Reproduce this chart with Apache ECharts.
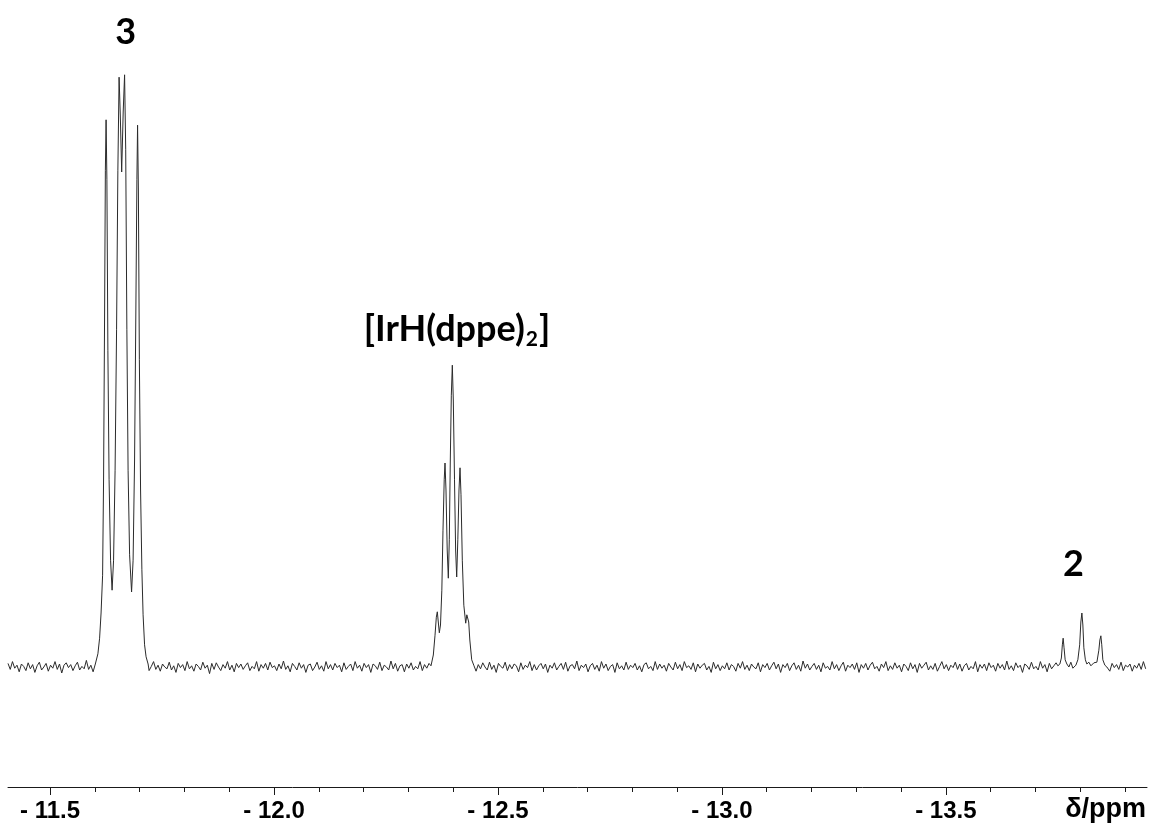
<!DOCTYPE html>
<html>
<head>
<meta charset="utf-8">
<title>Hydride region 1H NMR</title>
<script src="https://cdn.jsdelivr.net/npm/echarts@6/dist/echarts.min.js"></script>
<style>
  html, body { margin: 0; padding: 0; background: #fff; }
  #chart { width: 1153px; height: 830px; }
</style>
</head>
<body>
<div id="chart"></div>
<script>
// Chemical-shift window (ppm), drawn with higher shift on the left
const ppmMax = -11.406;
const ppmMin = -13.949;

const majorTicks = [-11.5, -12.0, -12.5, -13.0, -13.5];
const minorTicks = [-11.5, -11.6, -11.7, -11.8, -11.9, -12.0, -12.1, -12.2, -12.3, -12.4,
  -12.5, -12.6, -12.7, -12.8, -12.9, -13.0, -13.1, -13.2, -13.3, -13.4,
  -13.5, -13.6, -13.7, -13.8, -13.9];

// Baseline noise (relative intensity), sampled every noiseStep ppm from noiseStart
const noiseStart = -11.406;
const noiseStep = 0.005;
const baselineNoise = [
  0.6,-0.4,0.9,-0.2,0.3,-0.8,0.5,0.1,-0.6,0.7,-0.3,0.4,-0.9,0.2,0.8,-0.5,0.0,0.6,-0.7,0.3,
  -0.2,0.9,-0.4,0.5,-1.0,0.3,0.7,-0.1,0.4,-0.6,0.2,0.8,-0.5,0.1,-0.3,1.1,-0.4,0.3,-0.8,0.5,
  0.0,-0.6,0.7,-0.2,0.4,-0.9,0.6,0.2,-0.4,0.8,-0.7,0.3,-0.1,0.5,-0.5,0.9,-0.3,0.1,0.6,-0.8,
  0.4,-0.2,0.7,-0.6,0.1,0.9,-0.4,0.3,-0.7,0.5,0.0,-0.3,0.8,-0.5,0.2,-0.9,0.6,-0.1,0.4,-0.6,
  0.9,-0.3,0.2,-0.7,0.5,0.1,-0.5,0.8,-0.2,0.3,-1.1,0.6,-0.4,0.7,0.0,-0.6,0.4,-0.2,0.9,-0.5,
  0.3,-0.8,0.6,-0.1,0.5,-0.4,0.2,0.7,-0.6,0.1,-0.3,0.9,-0.7,0.4,-0.2,0.6,-0.5,0.8,-0.1,0.2,
  -0.6,0.5,-0.3,1.0,-0.4,0.2,-0.8,0.6,0.1,-0.5,0.7,-0.2,0.4,-0.9,0.3,0.5,-0.6,0.0,0.8,-0.4,
  0.2,-0.7,0.9,-0.3,0.4,-0.5,0.6,-0.1,0.3,-0.8,0.7,-0.4,0.1,0.5,-0.6,0.9,-0.2,0.3,-0.7,0.6,
  -0.1,0.4,-0.9,0.5,0.2,-0.4,0.8,-0.6,0.3,0.0,-0.5,1.0,-0.3,0.6,-0.7,0.2,0.4,-0.8,0.5,-0.2,
  0.7,-0.5,0.1,-0.3,0.9,-0.6,0.4,-0.2,0.6,-0.9,0.3,0.5,-0.4,0.8,-0.1,0.2,-0.7,0.6,-0.3,0.4,
  -0.8,0.3,0.6,-0.4,0.2,-0.6,0.9,-0.1,0.5,-0.7,0.4,-0.3,0.7,0.0,-0.5,0.8,-0.4,0.3,-0.9,0.6,
  0.1,-0.2,0.8,-0.6,0.4,-0.3,0.5,0.2,-0.8,0.7,-0.4,0.3,-0.1,0.9,-0.6,0.4,-0.5,0.2,0.6,-0.3,
  0.5,-0.9,0.3,-0.2,0.7,-0.5,0.1,0.6,-0.4,0.8,-0.7,0.2,0.4,-0.3,1.0,-0.6,0.3,-0.1,0.5,-0.8,
  0.2,0.6,-0.4,0.3,-0.7,0.9,-0.2,0.5,-0.6,0.1,0.4,-0.9,0.7,-0.3,0.2,-0.5,0.8,-0.4,0.3,-0.1,
  0.6,-0.5,0.2,-0.8,0.4,0.7,-0.3,0.1,-0.6,0.9,-0.4,0.5,-0.2,0.3,-0.7,0.6,0.0,-0.5,0.8,-0.3,
  0.4,-0.6,0.9,-0.1,0.2,-0.4,0.7,-0.8,0.5,-0.2,0.3,0.6,-0.5,0.1,-0.9,0.8,-0.3,0.4,-0.6,0.2,
  -0.3,0.7,-0.5,0.4,0.1,-0.7,0.6,-0.2,0.9,-0.4,0.3,-0.6,0.5,0.0,-0.3,0.7,-0.8,0.4,-0.1,0.6,
  -0.5,0.2,0.8,-0.3,0.5,-0.9,0.4,-0.1,0.6,-0.6,0.2,0.7,-0.4,0.3,-0.7,1.0,-0.2,0.5,-0.5,0.1,
  0.6,-0.4,0.3,-0.8,0.7,-0.2,0.1,-0.5,0.9,-0.3,0.4,-0.6,0.2,0.8,-0.7,0.3,-0.1,0.5,-0.4,0.7,
  -0.9,0.4,-0.2,0.6,-0.5,0.3,0.8,-0.3,0.1,-0.7,0.5,-0.1,0.9,-0.6,0.2,-0.4,0.7,-0.2,0.3,-0.8,
  0.5,0.1,-0.6,0.7,-0.3,0.4,-0.9,0.6,-0.2,0.3,0.8,-0.5,0.2,-0.4,0.6,-0.7,0.1,0.9,-0.3,0.4,
  -0.6,0.3,-0.1,0.8,-0.4,0.5,-0.7,0.2,0.6,-0.5,0.1,-0.3,0.9,-0.8,0.4,-0.2,0.5,-0.6,0.7,-0.1,
  0.3,-0.7,0.6,-0.2,0.4,-0.5,1.0,-0.4,0.2,-0.6,0.7,-0.1,0.3,-0.9,0.5,0.2,-0.4,0.8,-0.3,0.1,
  -0.5,0.9,-0.2,0.4,-0.8,0.6,-0.3,0.2,0.7,-0.6,0.3,-0.4,0.5,-0.1,0.8,-0.7,0.4,-0.2,0.6,-0.5,
  0.2,-0.3,0.7,-0.6,0.5,0.1,-0.8,0.4,-0.2,0.9,-0.5,0.3,-0.7,0.6,-0.1,0.4,-0.4,0.8,-0.6,0.3,
  0.0,0.5,-0.7,0.3,-0.2,0.6,-0.4,0.9,-0.3,0.2
];

// Hydride multiplet of complex 3 (ppm, intensity)
const multiplet3 = [
  [-11.6016,0.3],[-11.6067,2.2],[-11.6105,4.8],[-11.6138,9.0],[-11.6172,15.3],
  [-11.6194,31.5],[-11.6217,59.5],[-11.6234,82.8],[-11.6250,91.2],[-11.6268,81.2],
  [-11.6290,52.8],[-11.6317,31.2],[-11.6350,17.8],[-11.6384,12.8],[-11.6417,17.8],
  [-11.6451,32.8],[-11.6484,56.2],[-11.6513,82.8],[-11.6540,98.3],[-11.6567,92.0],
  [-11.6598,82.5],[-11.6632,92.5],[-11.6663,98.7],[-11.6688,86.2],[-11.6714,56.2],
  [-11.6741,32.8],[-11.6775,18.7],[-11.6819,12.5],[-11.6853,17.8],[-11.6886,34.5],
  [-11.6915,59.5],[-11.6938,81.2],[-11.6953,90.3],[-11.6971,79.5],[-11.6993,51.2],
  [-11.7020,29.5],[-11.7049,16.2],[-11.7076,8.7],[-11.7109,3.7],[-11.7143,1.7],
  [-11.7188,0.5]
];

// Hydride pentet of [IrH(dppe)2]
const multipletIrH = [
  [-12.3504,0.2],[-12.3556,2.0],[-12.3594,5.3],[-12.3623,8.3],[-12.3645,9.2],
  [-12.3667,7.5],[-12.3690,5.7],[-12.3716,7.0],[-12.3746,12.8],[-12.3772,22.8],
  [-12.3799,31.2],[-12.3817,34.0],[-12.3839,29.5],[-12.3866,19.5],[-12.3891,14.8],
  [-12.3913,21.2],[-12.3935,34.5],[-12.3958,45.3],[-12.3980,50.3],[-12.4002,44.5],
  [-12.4029,31.2],[-12.4054,19.5],[-12.4078,15.0],[-12.4103,21.2],[-12.4129,29.5],
  [-12.4152,33.2],[-12.4174,28.7],[-12.4203,17.8],[-12.4237,10.3],[-12.4279,7.3],
  [-12.4304,8.7],[-12.4324,9.0],[-12.4346,7.5],[-12.4371,4.5],[-12.4413,1.2],
  [-12.4464,0.2]
];

// Hydride triplet of complex 2
const multiplet2 = [
  [-13.7500,0.2],[-13.7545,0.5],[-13.7578,1.5],[-13.7600,3.7],[-13.7618,4.8],
  [-13.7638,3.2],[-13.7663,1.2],[-13.7701,0.5],[-13.7746,0.0],[-13.7790,0.8],
  [-13.7835,-0.2],[-13.7902,0.3],[-13.7946,1.2],[-13.7987,3.7],[-13.8013,7.5],
  [-13.8036,9.0],[-13.8058,7.0],[-13.8080,3.2],[-13.8114,1.2],[-13.8147,0.5],
  [-13.8192,0.8],[-13.8237,0.2],[-13.8304,0.7],[-13.8371,0.8],[-13.8415,2.8],
  [-13.8438,4.5],[-13.8460,5.2],[-13.8480,3.7],[-13.8504,1.2],[-13.8549,0.3],
  [-13.8594,0.0]
];

// Compound labels placed at (ppm, intensity)
const compoundLabels = [
  { name: '3', ppm: -11.6690, y: 105.8 },
  { name: 'IrH', ppm: -12.4085, y: 56.3 },
  { name: '2', ppm: -13.7845, y: 17.1 }
];

// Assemble the trace: noise everywhere except under the multiplets
const multiplets = [multiplet3, multipletIrH, multiplet2];
const excluded = multiplets.map(m => {
  const xs = m.map(p => p[0]);
  return [Math.min(...xs), Math.max(...xs)];
});
const spectrum = [];
baselineNoise.forEach((v, i) => {
  const ppm = noiseStart - i * noiseStep;
  if (ppm < ppmMin) return;
  if (excluded.some(r => ppm >= r[0] && ppm <= r[1])) return;
  spectrum.push([ppm, v]);
});
multiplets.forEach(m => spectrum.push(...m));
spectrum.sort((a, b) => b[0] - a[0]);

const labelFont = 'Lato, "Open Sans", sans-serif';
const axisFont = '"Liberation Sans", Arial, sans-serif';

const chart = echarts.init(document.getElementById('chart'), null, { renderer: 'canvas' });

chart.setOption({
  animation: false,
  backgroundColor: '#ffffff',
  grid: { left: 8, right: 6, top: 7, bottom: 43 },
  xAxis: [
    {
      type: 'value',
      inverse: true,
      min: ppmMin,
      max: ppmMax,
      position: 'bottom',
      axisLine: { show: true, onZero: false, lineStyle: { color: '#1a1a1a', width: 1 } },
      axisTick: {
        show: true, inside: false, length: 8,
        customValues: majorTicks,
        lineStyle: { color: '#1a1a1a', width: 1 }
      },
      axisLabel: {
        show: true,
        customValues: majorTicks,
        margin: 12,
        fontFamily: axisFont,
        fontWeight: 'bold',
        fontSize: 24,
        color: '#000',
        formatter: v => '- ' + Math.abs(v).toFixed(1)
      },
      splitLine: { show: false }
    },
    {
      type: 'value',
      inverse: true,
      min: ppmMin,
      max: ppmMax,
      position: 'bottom',
      axisLine: { show: false, onZero: false },
      axisTick: {
        show: true, inside: false, length: 5,
        customValues: minorTicks,
        lineStyle: { color: '#1a1a1a', width: 1 }
      },
      axisLabel: { show: false },
      splitLine: { show: false }
    }
  ],
  yAxis: {
    type: 'value',
    min: -20,
    max: 110,
    show: false,
    splitLine: { show: false }
  },
  series: [
    {
      type: 'line',
      data: spectrum,
      showSymbol: false,
      symbol: 'none',
      smooth: false,
      lineStyle: { color: '#2b2b2b', width: 1 },
      silent: true
    },
    {
      type: 'scatter',
      symbolSize: 0,
      itemStyle: { opacity: 1 },
      data: compoundLabels.map(l => ({ name: l.name, value: [l.ppm, l.y] })),
      label: {
        show: true,
        position: 'inside',
        color: '#000',
        fontFamily: labelFont,
        fontWeight: 'bold',
        fontSize: 36,
        formatter: p => p.name === 'IrH'
          ? '{main|[IrH(dppe)}{sub|2}{main|]}'
          : p.name,
        rich: {
          main: { fontFamily: labelFont, fontWeight: 'bold', fontSize: 36, color: '#000' },
          sub: {
            fontFamily: labelFont, fontWeight: 'bold', fontSize: 21, color: '#000',
            verticalAlign: 'bottom', padding: [20, 1, 0, 1]
          }
        }
      },
      silent: true
    }
  ],
  graphic: [
    {
      type: 'text',
      right: 7,
      top: 796,
      style: {
        text: 'δ/ppm',
        font: 'bold 27px ' + axisFont,
        fill: '#000'
      }
    }
  ]
});
</script>
</body>
</html>
